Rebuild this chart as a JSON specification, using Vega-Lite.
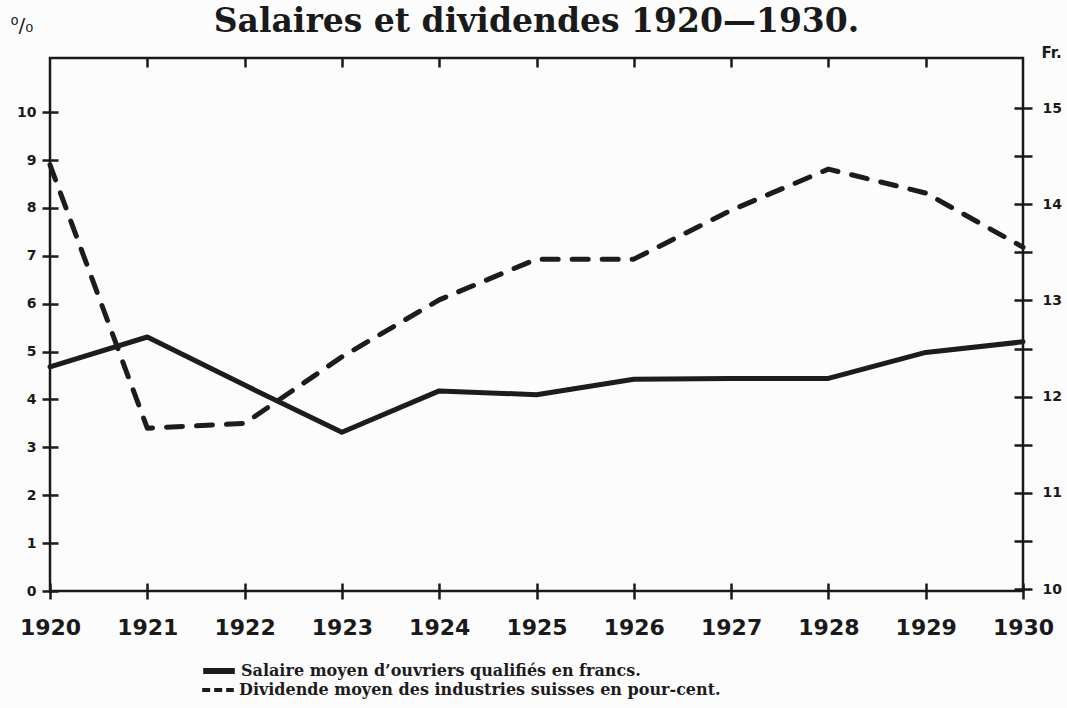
{
  "$schema": "https://vega.github.io/schema/vega-lite/v6.json",
  "width": 973,
  "height": 533,
  "autosize": "none",
  "padding": {"left": 50, "top": 58, "right": 44, "bottom": 117},
  "background": "#fcfcfc",
  "title": {
    "text": "Salaires et dividendes 1920—1930.",
    "font": "DejaVu Serif",
    "fontSize": 33,
    "fontWeight": "bold",
    "color": "#1a1a1a",
    "anchor": "middle",
    "frame": "group",
    "baseline": "alphabetic",
    "offset": -50
  },
  "config": {
    "view": {"stroke": "#1a1a1a", "strokeWidth": 2.5},
    "axis": {
      "domain": false,
      "tickColor": "#1a1a1a",
      "tickWidth": 2.5,
      "labelColor": "#1a1a1a",
      "labelFont": "DejaVu Sans",
      "labelFontWeight": "bold",
      "grid": false,
      "titleColor": "#1a1a1a"
    },
    "legend": {
      "title": null,
      "orient": "none",
      "symbolType": "stroke",
      "symbolSize": 1000,
      "symbolStrokeColor": "#1c1c1c",
      "labelFont": "DejaVu Serif",
      "labelFontSize": 16,
      "labelFontWeight": "bold",
      "labelColor": "#1c1c1c",
      "labelOffset": 3,
      "labelLimit": 700
    }
  },
  "data": {
    "values": [
      {"annee": 1920, "serie": "Salaire moyen d’ouvriers qualifiés en francs.", "valeur": 12.31},
      {"annee": 1921, "serie": "Salaire moyen d’ouvriers qualifiés en francs.", "valeur": 12.62},
      {"annee": 1922, "serie": "Salaire moyen d’ouvriers qualifiés en francs.", "valeur": 12.12},
      {"annee": 1923, "serie": "Salaire moyen d’ouvriers qualifiés en francs.", "valeur": 11.63},
      {"annee": 1924, "serie": "Salaire moyen d’ouvriers qualifiés en francs.", "valeur": 12.06},
      {"annee": 1925, "serie": "Salaire moyen d’ouvriers qualifiés en francs.", "valeur": 12.02},
      {"annee": 1926, "serie": "Salaire moyen d’ouvriers qualifiés en francs.", "valeur": 12.18},
      {"annee": 1927, "serie": "Salaire moyen d’ouvriers qualifiés en francs.", "valeur": 12.19},
      {"annee": 1928, "serie": "Salaire moyen d’ouvriers qualifiés en francs.", "valeur": 12.19},
      {"annee": 1929, "serie": "Salaire moyen d’ouvriers qualifiés en francs.", "valeur": 12.46},
      {"annee": 1930, "serie": "Salaire moyen d’ouvriers qualifiés en francs.", "valeur": 12.57},
      {"annee": 1920, "serie": "Dividende moyen des industries suisses en pour-cent.", "valeur": 8.9},
      {"annee": 1921, "serie": "Dividende moyen des industries suisses en pour-cent.", "valeur": 3.4},
      {"annee": 1922, "serie": "Dividende moyen des industries suisses en pour-cent.", "valeur": 3.5},
      {"annee": 1923, "serie": "Dividende moyen des industries suisses en pour-cent.", "valeur": 4.89},
      {"annee": 1924, "serie": "Dividende moyen des industries suisses en pour-cent.", "valeur": 6.08},
      {"annee": 1925, "serie": "Dividende moyen des industries suisses en pour-cent.", "valeur": 6.93},
      {"annee": 1926, "serie": "Dividende moyen des industries suisses en pour-cent.", "valeur": 6.93},
      {"annee": 1927, "serie": "Dividende moyen des industries suisses en pour-cent.", "valeur": 7.95},
      {"annee": 1928, "serie": "Dividende moyen des industries suisses en pour-cent.", "valeur": 8.81},
      {"annee": 1929, "serie": "Dividende moyen des industries suisses en pour-cent.", "valeur": 8.31},
      {"annee": 1930, "serie": "Dividende moyen des industries suisses en pour-cent.", "valeur": 7.18}
    ]
  },
  "layer": [
    {
      "transform": [{"filter": "indexof(datum.serie, 'Dividende') === 0"}],
      "mark": {"type": "line", "strokeWidth": 5, "strokeCap": "round", "strokeJoin": "round", "strokeDash": [16, 14]},
      "encoding": {
        "x": {
          "field": "annee", "type": "quantitative",
          "scale": {"domain": [1920, 1930], "nice": false, "zero": false},
          "axis": {
            "orient": "bottom", "title": null, "format": "d",
            "values": [1920, 1921, 1922, 1923, 1924, 1925, 1926, 1927, 1928, 1929, 1930],
            "offset": -8, "tickSize": 16, "labelFontSize": 22, "labelPadding": 18, "labelFlush": false
          }
        },
        "y": {
          "field": "valeur", "type": "quantitative",
          "scale": {"domain": [0, 11.13], "nice": false, "zero": false},
          "axis": {
            "orient": "left",
            "values": [0, 1, 2, 3, 4, 5, 6, 7, 8, 9, 10],
            "offset": -8, "tickSize": 16, "labelFontSize": 14, "labelPadding": 6,
            "title": "⁰/₀", "titleAngle": 0, "titleX": -48, "titleY": -33,
            "titleAlign": "left", "titleBaseline": "middle",
            "titleFont": "DejaVu Sans", "titleFontSize": 20, "titleFontWeight": "normal"
          }
        },
        "color": {
          "field": "serie", "type": "nominal",
          "scale": {"range": ["#1c1c1c"]},
          "legend": {
            "legendX": 150, "legendY": 614,
            "symbolDash": [8, 4], "symbolStrokeWidth": 4
          }
        }
      }
    },
    {
      "transform": [{"filter": "indexof(datum.serie, 'Salaire') === 0"}],
      "mark": {"type": "line", "strokeWidth": 5, "strokeCap": "round", "strokeJoin": "round"},
      "encoding": {
        "x": {
          "field": "annee", "type": "quantitative",
          "axis": {
            "orient": "top", "title": null, "labels": false,
            "values": [1921, 1922, 1923, 1924, 1925, 1926, 1927, 1928, 1929],
            "tickSize": -9
          }
        },
        "y": {
          "field": "valeur", "type": "quantitative",
          "scale": {"domain": [9.98, 15.52], "nice": false, "zero": false},
          "axis": {
            "orient": "right",
            "values": [10, 10.5, 11, 11.5, 12, 12.5, 13, 13.5, 14, 14.5, 15],
            "labelExpr": "datum.value % 1 === 0 ? format(datum.value, 'd') : ''",
            "offset": -9, "tickSize": 18, "labelFontSize": 14, "labelPadding": 10,
            "title": "Fr.", "titleAngle": 0, "titleX": 27, "titleY": -6,
            "titleAlign": "left", "titleBaseline": "middle",
            "titleFont": "DejaVu Sans", "titleFontSize": 15, "titleFontWeight": "bold"
          }
        },
        "color": {
          "field": "serie", "type": "nominal",
          "scale": {"range": ["#1c1c1c"]},
          "legend": {
            "legendX": 150, "legendY": 594,
            "symbolStrokeWidth": 6
          }
        }
      }
    }
  ],
  "resolve": {
    "scale": {"y": "independent", "color": "independent"},
    "axis": {"x": "independent"},
    "legend": {"color": "independent"}
  }
}
